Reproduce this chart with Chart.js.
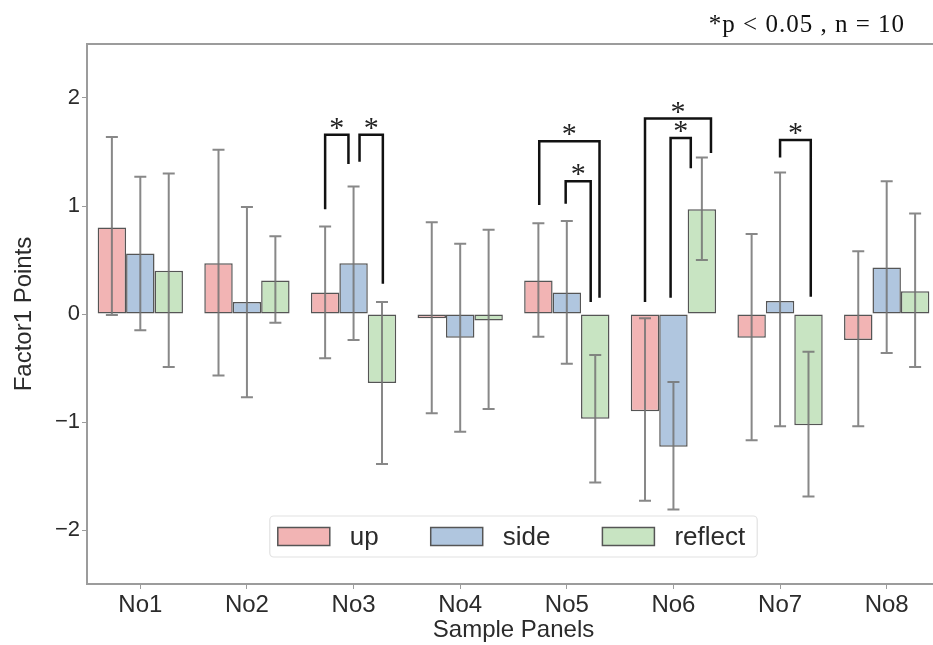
<!DOCTYPE html>
<html>
<head>
<meta charset="utf-8">
<script src="https://cdn.jsdelivr.net/npm/chart.js@4.4.0/dist/chart.umd.min.js"></script>
<style>
  html, body { margin: 0; padding: 0; background: #fff; overflow: hidden; }
  #wrap { position: relative; width: 945px; height: 645px; }
</style>
</head>
<body>
<div id="wrap"><canvas id="chart" width="945" height="645"></canvas></div>
<script>
// データ
const categories = ['No1', 'No2', 'No3', 'No4', 'No5', 'No6', 'No7', 'No8'];
const seriesNames = ['up', 'side', 'reflect'];
const upValues      = [0.80, 0.47, 0.20, -0.04, 0.31, -0.90, -0.22, -0.24];
const sideValues    = [0.56, 0.11, 0.47, -0.22, 0.20, -1.23, 0.12, 0.43];
const reflectValues = [0.40, 0.31, -0.64, -0.06, -0.97, 0.97, -1.03, 0.21];
const upErrHigh      = [1.64, 1.52, 0.81, 0.85, 0.84, -0.04, 0.74, 0.58];
const upErrLow       = [-0.01, -0.57, -0.41, -0.92, -0.21, -1.73, -1.17, -1.04];
const sideErrHigh    = [1.27, 0.99, 1.18, 0.65, 0.86, -0.63, 1.31, 1.23];
const sideErrLow     = [-0.15, -0.77, -0.24, -1.09, -0.46, -1.81, -1.04, -0.36];
const reflectErrHigh = [1.30, 0.72, 0.11, 0.78, -0.38, 1.45, -0.35, 0.93];
const reflectErrLow  = [-0.49, -0.08, -1.39, -0.88, -1.56, 0.50, -1.69, -0.49];
const yTicks = [-2, -1, 0, 1, 2];
// 有意差のブラケット: cat = カテゴリ, from/to = バー位置 (-1 up, 0 side, 1 reflect)
const brackets = [
    { cat: 2, from: -1.0,  to: -0.18, top: 1.66, fromEnd: 0.97, toEnd: 1.39 },
    { cat: 2, from: 0.21,  to: 1.03,  top: 1.66, fromEnd: 1.41, toEnd: 0.28 },
    { cat: 4, from: -0.97, to: 1.15,  top: 1.60, fromEnd: 1.01, toEnd: 0.15 },
    { cat: 4, from: -0.04, to: 0.84,  top: 1.23, fromEnd: 1.02, toEnd: 0.11 },
    { cat: 5, from: -1.0,  to: 1.32,  top: 1.81, fromEnd: 0.11, toEnd: 1.49 },
    { cat: 5, from: -0.1,  to: 0.61,  top: 1.63, fromEnd: 0.15, toEnd: 1.35 },
    { cat: 6, from: 0.0,   to: 1.08,  top: 1.61, fromEnd: 1.45, toEnd: 0.16 }
];
const noteText = '*p < 0.05 , n = 10';

const fillColors = ['#f2b4b4', '#b0c6df', '#c8e4c2'];
const edgeColor = '#555555';
const textColor = '#2b2b2b';
const frameColor = '#9c9c9c';
const sansFont = '"Liberation Sans", Arial, sans-serif';
const serifFont = '"Liberation Serif", "Times New Roman", serif';

const errHigh = [upErrHigh, sideErrHigh, reflectErrHigh];
const errLow = [upErrLow, sideErrLow, reflectErrLow];

// 枠・エラーバー・ブラケット・凡例
const extras = {
    id: 'extras',
    beforeDatasetsDraw(chart) {
        const ctx = chart.ctx;
        const a = chart.chartArea;
        ctx.save();
        ctx.strokeStyle = frameColor;
        ctx.lineWidth = 2;
        ctx.strokeRect(a.left, a.top, a.right - a.left, a.bottom - a.top);
        ctx.restore();
    },
    afterDatasetsDraw(chart) {
        const ctx = chart.ctx;
        const a = chart.chartArea;
        const xs = chart.scales.x;
        const ys = chart.scales.y;
        ctx.save();

        // error bars
        ctx.strokeStyle = 'rgba(115,115,115,0.85)';
        ctx.lineWidth = 2;
        chart.data.datasets.forEach((ds, d) => {
            const meta = chart.getDatasetMeta(d);
            meta.data.forEach((bar, i) => {
                const x = bar.x;
                const yh = ys.getPixelForValue(errHigh[d][i]);
                const yl = ys.getPixelForValue(errLow[d][i]);
                ctx.beginPath();
                ctx.moveTo(x, yh); ctx.lineTo(x, yl);
                ctx.moveTo(x - 6, yh); ctx.lineTo(x + 6, yh);
                ctx.moveTo(x - 6, yl); ctx.lineTo(x + 6, yl);
                ctx.stroke();
            });
        });

        // brackets
        const step = xs.getPixelForValue(1) - xs.getPixelForValue(0);
        const slot = step * 0.8 / 3;
        ctx.strokeStyle = '#111';
        ctx.lineWidth = 2.5;
        ctx.fillStyle = '#222';
        ctx.font = '30px ' + serifFont;
        ctx.textAlign = 'center';
        ctx.textBaseline = 'alphabetic';
        brackets.forEach(b => {
            const c = xs.getPixelForValue(b.cat);
            const x1 = c + b.from * slot;
            const x2 = c + b.to * slot;
            const yt = ys.getPixelForValue(b.top);
            ctx.beginPath();
            ctx.moveTo(x1, ys.getPixelForValue(b.fromEnd));
            ctx.lineTo(x1, yt);
            ctx.lineTo(x2, yt);
            ctx.lineTo(x2, ys.getPixelForValue(b.toEnd));
            ctx.stroke();
            ctx.fillText('*', (x1 + x2) / 2, yt + 2);
        });

        // legend (lower center)
        ctx.font = '26px ' + sansFont;
        const sw = 52, sh = 18, gapText = 20, gapItem = 52;
        const tws = seriesNames.map(n => ctx.measureText(n).width);
        let total = 0;
        tws.forEach((w, i) => { total += sw + gapText + w + (i ? gapItem : 0); });
        const boxW = total + 8 + 12;
        const boxH = 41;
        const boxX = (a.left + a.right) / 2 - boxW / 2;
        const boxY = a.bottom - 27 - boxH;
        ctx.fillStyle = 'rgba(255,255,255,0.85)';
        ctx.strokeStyle = '#e2e2e2';
        ctx.lineWidth = 1.2;
        ctx.beginPath();
        ctx.roundRect(boxX, boxY, boxW, boxH, 4);
        ctx.fill();
        ctx.stroke();
        let x = boxX + 8;
        const cy = boxY + boxH / 2;
        seriesNames.forEach((n, i) => {
            ctx.fillStyle = fillColors[i];
            ctx.fillRect(x, cy - sh / 2, sw, sh);
            ctx.strokeStyle = edgeColor;
            ctx.lineWidth = 1.5;
            ctx.strokeRect(x, cy - sh / 2, sw, sh);
            ctx.fillStyle = textColor;
            ctx.textAlign = 'left';
            ctx.textBaseline = 'middle';
            ctx.fillText(n, x + sw + gapText, cy + 1);
            x += sw + gapText + tws[i] + gapItem;
        });

        // note
        ctx.fillStyle = '#111';
        ctx.font = '25px ' + serifFont;
        ctx.letterSpacing = '1px';
        ctx.textAlign = 'right';
        ctx.textBaseline = 'alphabetic';
        ctx.fillText(noteText, 905, 32);
        ctx.restore();
    }
};

const valueSets = [upValues, sideValues, reflectValues];
const ctx = document.getElementById('chart').getContext('2d');
const chart = new Chart(ctx, {
    type: 'bar',
    data: {
        labels: categories,
        datasets: seriesNames.map((n, i) => ({
            label: n,
            data: valueSets[i],
            backgroundColor: fillColors[i],
            borderColor: edgeColor,
            borderWidth: 1.5,
            borderSkipped: false,
            categoryPercentage: 0.8,
            barPercentage: 1.0
        }))
    },
    options: {
        responsive: false,
        animation: false,
        devicePixelRatio: 1,
        layout: { padding: { top: 44, right: 5, left: 0, bottom: 0 } },
        plugins: { legend: { display: false }, tooltip: { enabled: false } },
        scales: {
            x: {
                offset: true,
                grid: { drawOnChartArea: false, drawTicks: true, tickLength: 5, color: frameColor, offset: false },
                border: { display: false },
                ticks: { color: textColor, font: { family: sansFont, size: 24 }, padding: 2 },
                title: { display: true, text: 'Sample Panels', color: textColor, font: { family: sansFont, size: 24 }, padding: { top: 0, bottom: 0 } },
                afterFit(s) { s.height = 61; }
            },
            y: {
                min: -2.5,
                max: 2.5,
                afterBuildTicks(s) { s.ticks = yTicks.map(v => ({ value: v })); },
                grid: { drawOnChartArea: false, drawTicks: true, tickLength: 5, color: frameColor },
                border: { display: false },
                ticks: {
                    color: textColor,
                    font: { family: sansFont, size: 22 },
                    padding: 2,
                    callback: v => v < 0 ? '\u2212' + Math.abs(v) : String(v)
                },
                title: { display: true, text: 'Factor1 Points', color: textColor, font: { family: sansFont, size: 24 }, padding: { top: 10, bottom: 0 } },
                afterFit(s) { s.width = 87; }
            }
        }
    },
    plugins: [extras]
});
</script>
</body>
</html>
